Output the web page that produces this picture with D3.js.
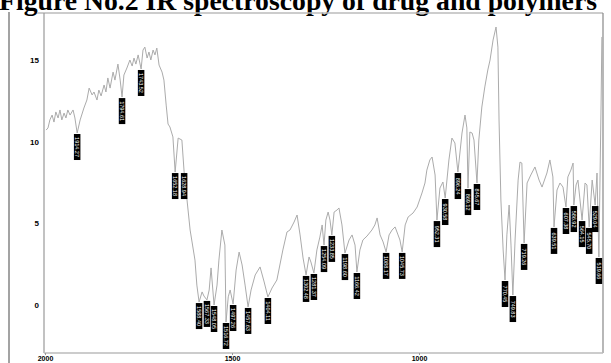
<!DOCTYPE html>
<html>
<head>
<meta charset="utf-8">
<script src="https://cdn.jsdelivr.net/npm/d3@7/dist/d3.min.js"></script>
<style>
    body { margin: 0; background: #fff; }
    svg { display: block; }
</style>
</head>
<body>
<svg id="chart" width="611" height="363"></svg>
<script>
const TITLE = 'Figure No.2 IR spectroscopy of drug and polymers';

// wavenumber (cm-1) and transmittance
const wavenumbers = [
    1997, 1992, 1987, 1981, 1976, 1971, 1965, 1960, 1955, 1949, 1944, 1939, 1933, 1925, 1920, 1914,
    1906, 1896, 1888, 1882, 1874, 1869, 1861, 1856, 1850, 1842, 1837, 1832, 1826, 1818, 1813, 1805,
    1799, 1794, 1789, 1781, 1773, 1767, 1762, 1757, 1751, 1743, 1738, 1733, 1727, 1722, 1717, 1711,
    1706, 1701, 1695, 1687, 1682, 1676, 1671, 1666, 1658, 1652, 1644, 1634, 1628, 1623, 1612, 1599,
    1594, 1588, 1580, 1575, 1567, 1561, 1556, 1548, 1540, 1535, 1527, 1519, 1516, 1510, 1505, 1497,
    1489, 1481, 1473, 1465, 1457, 1449, 1438, 1425, 1414, 1404, 1393, 1380, 1364, 1353, 1345, 1334,
    1326, 1318, 1310, 1302, 1294, 1289, 1281, 1273, 1265, 1259, 1254, 1249, 1243, 1238, 1233, 1227,
    1219, 1214, 1206, 1198, 1187, 1179, 1171, 1166, 1158, 1150, 1139, 1126, 1118, 1112, 1104, 1096,
    1088, 1080, 1072, 1064, 1056, 1051, 1045, 1037, 1029, 1016, 1005, 992, 984, 979, 971, 965,
    957, 952, 944, 936, 930, 920, 912, 904, 896, 885, 877, 872, 869, 864, 858, 853,
    845, 840, 832, 824, 816, 810, 802, 794, 789, 786, 781, 775, 770, 765, 759, 754,
    749, 743, 735, 730, 725, 719, 711, 701, 690, 679, 671, 658, 650, 642, 639, 631,
    623, 615, 607, 602, 594, 588, 586, 580, 575, 564, 556, 551, 545, 537, 529, 524,
    519, 513, 511
];
const transmittance = [
    10.71, 10.84, 11.33, 11.63, 11.20, 11.82, 11.45, 11.94, 11.33, 11.75, 11.45, 11.94, 11.63, 11.94, 11.45, 10.53,
    11.33, 12.06, 12.55, 13.28, 12.86, 13.04, 12.55, 13.16, 12.80, 13.47, 13.04, 13.90, 13.28, 14.26, 13.77, 14.75,
    13.77, 12.73, 14.08, 14.51, 15.00, 14.63, 15.12, 14.75, 15.31, 14.45, 15.61, 15.79, 15.12, 15.49, 15.00, 15.61,
    15.31, 15.73, 14.69, 14.26, 13.77, 12.24, 11.08, 10.90, 10.29, 8.14, 10.22, 10.10, 8.14, 7.04, 4.59, 2.75,
    1.22, 0.18, 0.80, 0.55, 0.31, 0.92, 2.27, 0.00, 1.22, 2.75, 4.59, 3.67, -1.04, 0.50, 0.92, 0.06,
    2.14, 3.24, 2.45, 1.22, -0.12, 0.92, 1.84, 2.33, 1.41, 0.49, 1.04, 1.53, 3.37, 4.47, 4.59, 5.08,
    5.51, 4.29, 2.88, 1.84, 2.94, 2.63, 1.96, 3.37, 4.16, 4.90, 3.67, 5.20, 5.69, 5.20, 4.29, 5.69,
    5.82, 5.94, 4.90, 3.18, 3.98, 4.29, 3.67, 2.02, 3.37, 3.98, 4.22, 4.59, 4.90, 5.33, 4.29, 3.86,
    3.25, 4.29, 4.59, 4.78, 4.29, 3.98, 3.25, 4.90, 5.39, 5.63, 6.00, 6.86, 7.47, 8.26, 8.88, 9.06,
    7.96, 5.20, 7.16, 7.53, 6.55, 8.88, 10.22, 9.92, 8.14, 10.53, 11.63, 10.84, 7.16, 10.59, 10.53, 10.10,
    7.47, 10.10, 12.12, 13.35, 14.39, 15.00, 16.22, 17.02, 15.79, 11.33, 6.43, 3.37, 1.53, 4.29, 6.12, 3.67,
    0.61, 4.04, 7.65, 8.75, 8.69, 3.80, 7.47, 7.96, 8.45, 7.65, 7.22, 8.08, 8.88, 7.84, 4.78, 7.04,
    7.47, 7.22, 6.00, 7.84, 8.26, 8.69, 6.12, 7.35, 7.65, 5.20, 7.47, 7.35, 4.78, 7.65, 6.12, 8.08,
    2.94, 12.55, 16.41
];

// labelled absorption minima
const peakLabels = [
    1914.27, 1794.61, 1743.52, 1652.18, 1628.94, 1588.40, 1567.33, 1548.05, 1516.72, 1497.26,
    1457.63, 1404.11, 1302.48, 1281.37, 1254.09, 1233.85, 1198.60, 1166.42, 1088.17, 1045.73,
    952.31, 930.58, 896.24, 869.12, 845.67, 770.45, 749.83, 719.26, 639.51, 607.38,
    586.92, 564.15, 545.70, 529.04, 519.66
];

const xTicks = [2000, 1500, 1000];
const yTicks = [0, 5, 10, 15];

const svg = d3.select('#chart');

const x = d3.scaleLinear().domain([2000, 1000]).range([45, 419]);
const y = d3.scaleLinear().domain([0, 15]).range([305, 60]);
const frame = { left: 44, right: 603, top: 13, bottom: 353 };

const data = wavenumbers.map(function (w, i) {
    return { w: w, t: transmittance[i] };
});

// title, cut off at the top like the scan
svg.append('text')
    .attr('x', -1)
    .attr('y', 10)
    .attr('font-family', '"Liberation Serif", "Times New Roman", serif')
    .attr('font-weight', 'bold')
    .attr('font-size', 27)
    .attr('textLength', 598)
    .attr('lengthAdjust', 'spacingAndGlyphs')
    .attr('fill', '#000')
    .text(TITLE);

// outer page rule
svg.append('line')
    .attr('x1', 9).attr('x2', 9)
    .attr('y1', 12).attr('y2', 363)
    .attr('stroke', '#666')
    .attr('stroke-width', 1.2);

// plot frame
svg.append('line')
    .attr('x1', frame.left - 7).attr('x2', frame.right)
    .attr('y1', frame.top).attr('y2', frame.top)
    .attr('stroke', '#bbb').attr('stroke-width', 1.5);
svg.append('line')
    .attr('x1', frame.right).attr('x2', frame.right)
    .attr('y1', frame.top).attr('y2', frame.bottom)
    .attr('stroke', '#888').attr('stroke-width', 1.2);
svg.append('line')
    .attr('x1', frame.left).attr('x2', frame.left)
    .attr('y1', frame.top).attr('y2', frame.bottom)
    .attr('stroke', '#999').attr('stroke-width', 1.2);
svg.append('line')
    .attr('x1', frame.left).attr('x2', frame.right)
    .attr('y1', frame.bottom).attr('y2', frame.bottom)
    .attr('stroke', '#bbb').attr('stroke-width', 1.5);

// axes
const yAxis = d3.axisLeft(y)
    .tickValues(yTicks)
    .tickSize(0)
    .tickPadding(0)
    .tickFormat(d3.format('d'));
const gy = svg.append('g')
    .attr('transform', 'translate(' + (frame.left - 5) + ',0)')
    .call(yAxis);
gy.select('.domain').remove();
gy.selectAll('text')
    .attr('font-family', '"Liberation Sans", Arial, sans-serif')
    .attr('font-weight', 'bold')
    .attr('font-size', 8)
    .attr('fill', '#000');

const xAxis = d3.axisBottom(x)
    .tickValues(xTicks)
    .tickSize(2)
    .tickPadding(1)
    .tickFormat(d3.format('d'));
const gx = svg.append('g')
    .attr('transform', 'translate(0,' + frame.bottom + ')')
    .call(xAxis);
gx.select('.domain').remove();
gx.selectAll('line').attr('stroke', '#999');
gx.selectAll('text')
    .attr('font-family', '"Liberation Sans", Arial, sans-serif')
    .attr('font-weight', 'bold')
    .attr('font-size', 7)
    .attr('fill', '#000');

// spectrum
const line = d3.line()
    .x(function (d) { return x(d.w); })
    .y(function (d) { return y(d.t); });

svg.append('path')
    .datum(data)
    .attr('fill', 'none')
    .attr('stroke', '#ababab')
    .attr('stroke-width', 1)
    .attr('stroke-linejoin', 'round')
    .attr('d', line);

// peak labels hang below each minimum
function nearest (w) {
    return d3.least(data, function (d) { return Math.abs(d.w - w); });
}

const labelH = 26;
const labelW = 6.5;
const peaks = svg.append('g').selectAll('g')
    .data(peakLabels)
    .join('g')
    .attr('transform', function (w) {
        const p = nearest(w);
        return 'translate(' + x(p.w) + ',' + (y(p.t) + 1) + ')';
    });

peaks.append('rect')
    .attr('x', -labelW / 2)
    .attr('y', 0)
    .attr('width', labelW)
    .attr('height', labelH)
    .attr('fill', '#000');

peaks.append('text')
    .attr('transform', 'translate(0,' + (labelH / 2) + ') rotate(90)')
    .attr('text-anchor', 'middle')
    .attr('dy', '0.35em')
    .attr('font-family', '"Liberation Sans", Arial, sans-serif')
    .attr('font-size', 5.5)
    .attr('fill', '#fff')
    .text(function (w) { return d3.format('.2f')(w); });
</script>
</body>
</html>
